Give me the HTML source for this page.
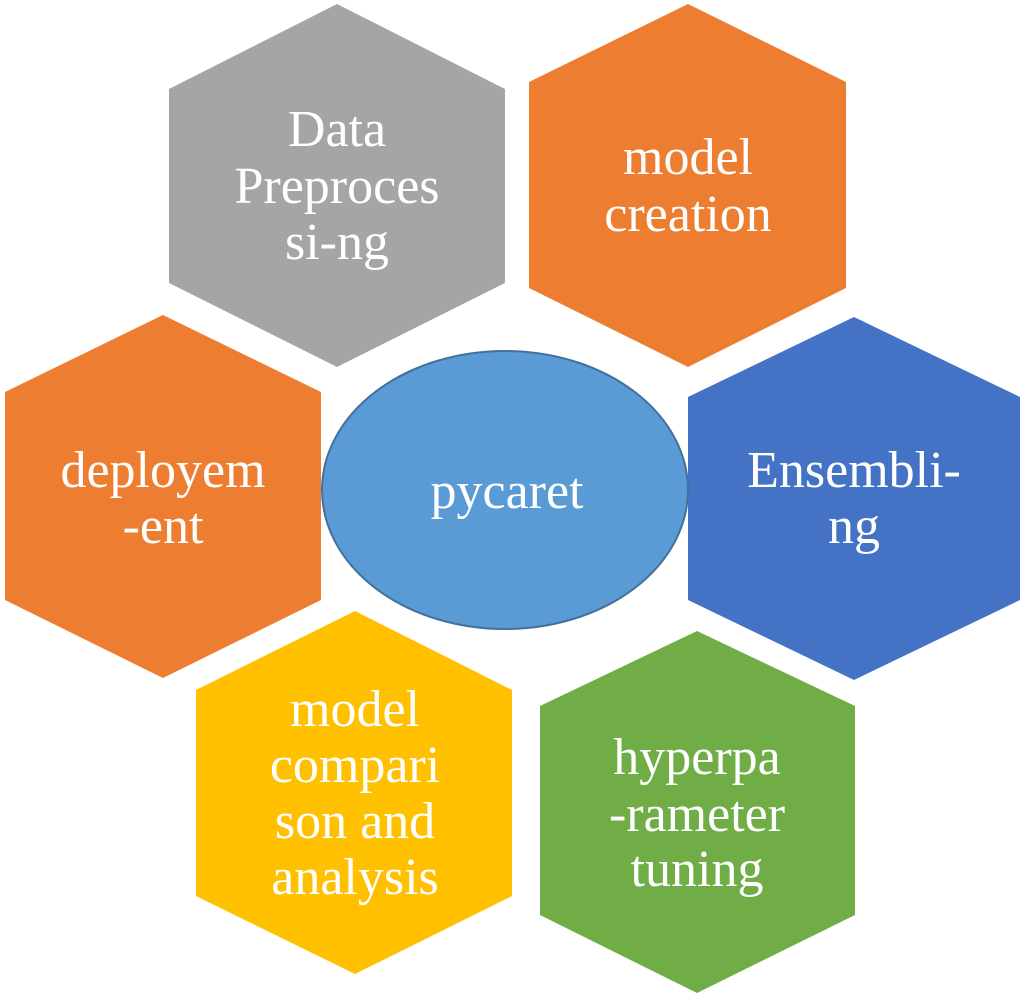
<!DOCTYPE html>
<html><head><meta charset="utf-8"><style>
html,body{margin:0;padding:0;background:#fff;}
svg{display:block}
text{font-family:"Liberation Serif",serif;font-size:52px;fill:#fff;text-anchor:middle}
</style></head><body>
<svg width="1024" height="998" viewBox="0 0 1024 998">
<polygon points="337,4 505,89 505,283 337,367 169,283 169,89" fill="#a5a5a5"/>
<polygon points="688,4 846,82 846,288 688,367 529,288 529,82" fill="#ed7d31"/>
<polygon points="163,315 321,392 321,600 163,678 5,600 5,392" fill="#ed7d31"/>
<polygon points="854,317 1020,397 1020,600 854,680 688,600 688,397" fill="#4472c4"/>
<polygon points="355,611 512,690 512,896 355,974 196,896 196,690" fill="#ffc000"/>
<polygon points="697,631 855,706 855,915 697,993 540,915 540,706" fill="#70ad47"/>
<ellipse cx="505" cy="490" rx="183" ry="139" fill="#5b9bd5" stroke="#41719c" stroke-width="2"/>
<text x="337" y="146">Data</text>
<text x="337" y="203">Preproces</text>
<text x="337" y="259">si-ng</text>
<text x="688" y="174">model</text>
<text x="688" y="231">creation</text>
<text x="163" y="487">deployem</text>
<text x="163" y="543">-ent</text>
<text x="507" y="508">pycaret</text>
<text x="854" y="487">Ensembli-</text>
<text x="854" y="543">ng</text>
<text x="355" y="726">model</text>
<text x="355" y="782">compari</text>
<text x="355" y="838">son and</text>
<text x="355" y="894">analysis</text>
<text x="697" y="774">hyperpa</text>
<text x="697" y="831">-rameter</text>
<text x="697" y="886">tuning</text>
</svg>
</body></html>
